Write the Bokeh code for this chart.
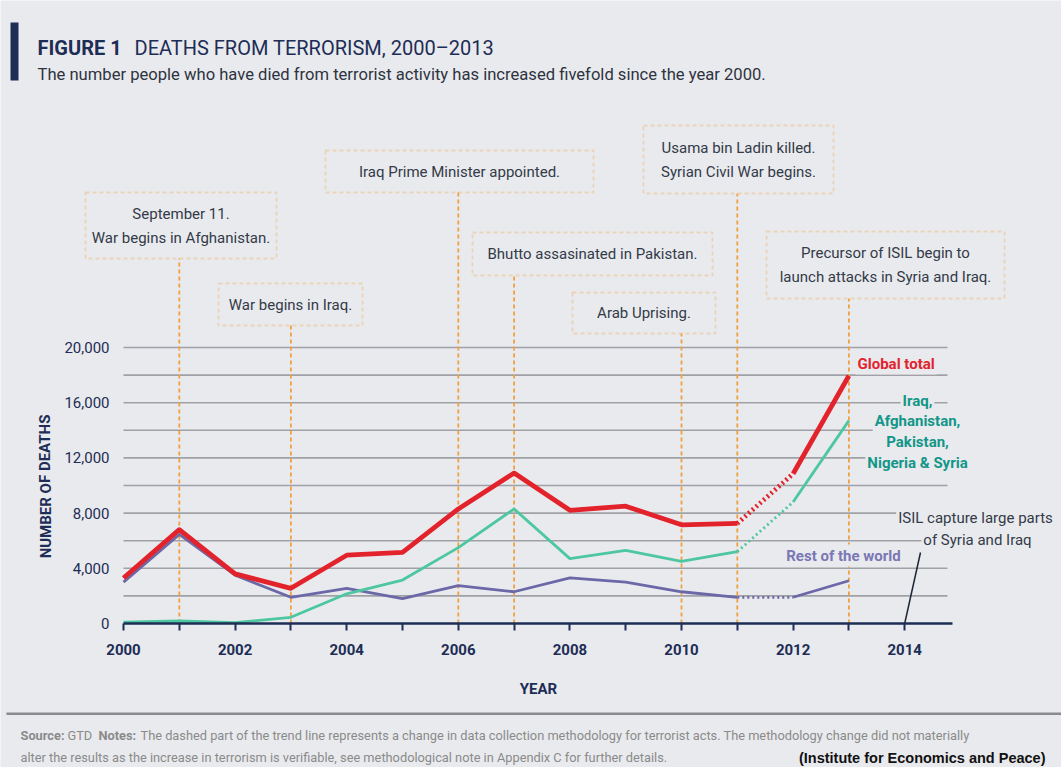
from bokeh.plotting import figure
from bokeh.models import Range1d, FixedTicker, Label, BoxAnnotation, NumeralTickFormatter
from bokeh.embed import file_html
from bokeh.resources import INLINE

# ---------------- data ----------------
years = list(range(2000, 2014))
global_total = [3300, 6800, 3600, 2550, 4950, 5150, 8300, 10900, 8200, 8500, 7150, 7250, 10850, 17950]
five_countries = [100, 180, 60, 450, 2150, 3150, 5500, 8300, 4700, 5300, 4500, 5200, 8800, 14700]
rest_of_world = [3000, 6450, 3500, 1900, 2550, 1800, 2750, 2300, 3300, 3000, 2300, 1900, 1900, 3100]
y_ticks = [0, 4000, 8000, 12000, 16000, 20000]
grid_values = [2000, 4000, 6000, 8000, 10000, 12000, 14000, 16000, 18000, 20000]
x_ticks = list(range(2000, 2015))
x_tick_labels = {y: (str(y) if y % 2 == 0 else "") for y in x_ticks}

event_years = [2001, 2003, 2006, 2007, 2010, 2011, 2013]
event_texts = [
    ["September 11.", "War begins in Afghanistan."],
    ["War begins in Iraq."],
    ["Iraq Prime Minister appointed."],
    ["Bhutto assasinated in Pakistan."],
    ["Arab Uprising."],
    ["Usama bin Ladin killed.", "Syrian Civil War begins."],
    ["Precursor of ISIL begin to", "launch attacks in Syria and Iraq."],
]
# box layout in page pixels: left, right, top, bottom
event_boxes = [
    (85, 276, 192, 258),
    (218, 362, 283, 325),
    (325, 593, 150, 192),
    (472, 712, 232, 275),
    (572, 715, 292, 333),
    (643, 833, 125, 193),
    (766, 1004, 231, 298),
]

# ---------------- layout constants ----------------
W, H = 1061, 767
X2000_PX = 123      # pixel column of year 2000
ZERO_PX = 623       # pixel row of value 0
PX_YEAR = 55.8
PX_UNIT = 276 / 20000

BG = "#e9eaee"
NAVY = "#1d2d55"
RED = "#e3232c"
TEAL = "#4cc79f"
TEAL_TXT = "#129688"
PURPLE = "#6c68a8"
PURPLE_TXT = "#7a77b4"
ORANGE = "#f0a040"
GRID = "#a0a1a6"
DARK = "#333a48"
FOOT = "#8a8a8a"
FONT = "Roboto"


def dx(px):
    return 2000 + (px - X2000_PX) / PX_YEAR


def dy(py):
    return (ZERO_PX - py) / PX_UNIT


p = figure(
    width=W, height=H,
    x_range=Range1d(dx(0), dx(W)),
    y_range=Range1d(dy(H), dy(0)),
    min_border=0, min_border_left=0, min_border_right=0, min_border_top=0, min_border_bottom=0,
    output_backend="svg", toolbar_location=None,
    background_fill_color=BG, border_fill_color=BG, outline_line_color=None,
)
p.grid.visible = False

# x axis (drawn at value 0)
xa = p.xaxis[0]
xa.fixed_location = 0
xa.ticker = FixedTicker(ticks=x_ticks)
xa.major_label_overrides = x_tick_labels
xa.bounds = (2000, dx(952))
xa.axis_line_color = NAVY
xa.axis_line_width = 2.5
xa.major_tick_line_color = NAVY
xa.major_tick_line_width = 2
xa.major_tick_in = 0
xa.major_tick_out = 7
xa.minor_tick_line_color = None
xa.major_label_text_font = FONT
xa.major_label_text_font_size = "15px"
xa.major_label_text_font_style = "bold"
xa.major_label_text_color = NAVY
xa.major_label_standoff = 13

# y axis (drawn at year 2000)
ya = p.yaxis[0]
ya.fixed_location = 2000
ya.ticker = FixedTicker(ticks=y_ticks)
ya.formatter = NumeralTickFormatter(format="0,0")
ya.bounds = (0, 20000)
ya.axis_line_color = None
ya.major_tick_line_color = None
ya.minor_tick_line_color = None
ya.major_label_text_font = FONT
ya.major_label_text_font_size = "15px"
ya.major_label_text_color = NAVY
ya.major_label_standoff = 8

# grid lines
p.segment(x0=2000, x1=dx(947), y0=grid_values, y1=grid_values, line_color=GRID, line_width=1.6)

# event connectors
p.segment(x0=event_years, x1=event_years, y0=0, y1=[dy(b[3]) for b in event_boxes],
          line_color=ORANGE, line_width=1.8, line_dash="4 3")


# series
def draw(vals, color, width):
    p.line(years[:12], vals[:12], line_color=color, line_width=width, line_join="round")
    p.line(years[11:13], vals[11:13], line_color=color, line_width=width, line_dash="2 3")
    p.line(years[12:], vals[12:], line_color=color, line_width=width, line_join="round")


draw(rest_of_world, PURPLE, 2.8)
draw(five_countries, TEAL, 2.8)
draw(global_total, RED, 4.8)

# event boxes and texts
for (l, r, t, b), lines in zip(event_boxes, event_texts):
    p.add_layout(BoxAnnotation(left=dx(l), right=dx(r), top=dy(t), bottom=dy(b),
                               fill_alpha=0, line_color=ORANGE, line_width=1.8, line_dash="4 3"))
    cy = (t + b) / 2
    n = len(lines)
    for i, s in enumerate(lines):
        yy = cy + (i - (n - 1) / 2) * 24
        p.add_layout(Label(x=dx((l + r) / 2), y=dy(yy), text=s, text_align="center",
                           text_baseline="middle", text_font=FONT, text_font_size="15px",
                           text_color=DARK))


# series labels
def lab(x, y, s, color, bold=True, align="left", size="15px", bg=True):
    p.add_layout(Label(x=dx(x), y=dy(y), text=s, text_align=align, text_baseline="middle",
                       text_font=FONT, text_font_size=size,
                       text_font_style="bold" if bold else "normal", text_color=color,
                       background_fill_color=BG if bg else None, padding=2))


lab(855, 363, "Global total", RED)
for i, s in enumerate(["Iraq,", "Afghanistan,", "Pakistan,", "Nigeria & Syria"]):
    lab(917, 400 + i * 20.7, s, TEAL_TXT, align="center")
lab(843, 555, "Rest of the world", PURPLE_TXT, align="center")
lab(975, 517, "ISIL capture large parts", DARK, bold=False, align="center")
lab(977, 539, "of Syria and Iraq", DARK, bold=False, align="center")

# ISIL leader line
p.segment(x0=[2014], y0=[0], x1=[dx(920)], y1=[dy(552)], line_color="#1d2636", line_width=1.5)

# axis titles
p.add_layout(Label(x=dx(45), y=dy(486), text="NUMBER OF DEATHS", angle=1.5708,
                   text_align="center", text_baseline="middle", text_font=FONT,
                   text_font_size="15px", text_font_style="bold", text_color=NAVY))
p.add_layout(Label(x=dx(538), y=dy(688), text="YEAR", text_align="center",
                   text_baseline="middle", text_font=FONT, text_font_size="15px",
                   text_font_style="bold", text_color=NAVY))

# title block
p.add_layout(BoxAnnotation(left=dx(10), right=dx(18), top=dy(22), bottom=dy(80),
                           fill_color=NAVY, fill_alpha=1, line_color=None))
p.add_layout(Label(x=dx(37), y=dy(47), text="FIGURE 1", text_baseline="middle",
                   text_font=FONT, text_font_size="20px", text_font_style="bold", text_color=NAVY))
p.add_layout(Label(x=dx(134), y=dy(47), text="DEATHS FROM TERRORISM, 2000\u20132013",
                   text_baseline="middle", text_font=FONT, text_font_size="20px", text_color=NAVY))
p.add_layout(Label(x=dx(37), y=dy(74),
                   text="The number people who have died from terrorist activity has increased fivefold since the year 2000.",
                   text_baseline="middle", text_font=FONT, text_font_size="16.6px", text_color="#2e3340"))

# footer
p.add_layout(BoxAnnotation(left=dx(6), right=dx(W), top=dy(712), bottom=dy(714.5),
                           fill_color="#8a8a8e", fill_alpha=1, line_color=None))
foot = [
    (20, 735, "Source:", "bold"),
    (67, 735, "GTD", "normal"),
    (98, 735, "Notes:", "bold"),
    (140, 735, "The dashed part of the trend line represents a change in data collection methodology for terrorist acts. The methodology change did not materially", "normal"),
    (20, 757, "alter the results as the increase in terrorism is verifiable, see methodological note in Appendix C for further details.", "normal"),
]
for x, y, s, st in foot:
    p.add_layout(Label(x=dx(x), y=dy(y), text=s, text_baseline="middle", text_font=FONT,
                       text_font_size="12.8px", text_font_style=st, text_color=FOOT))
p.add_layout(Label(x=dx(1045), y=dy(757), text="(Institute for Economics and Peace)",
                   text_align="right", text_baseline="middle", text_font="Liberation Sans",
                   text_font_size="14.5px", text_font_style="bold", text_color="#111111"))

open("out.html", "w").write(file_html(p, INLINE))
